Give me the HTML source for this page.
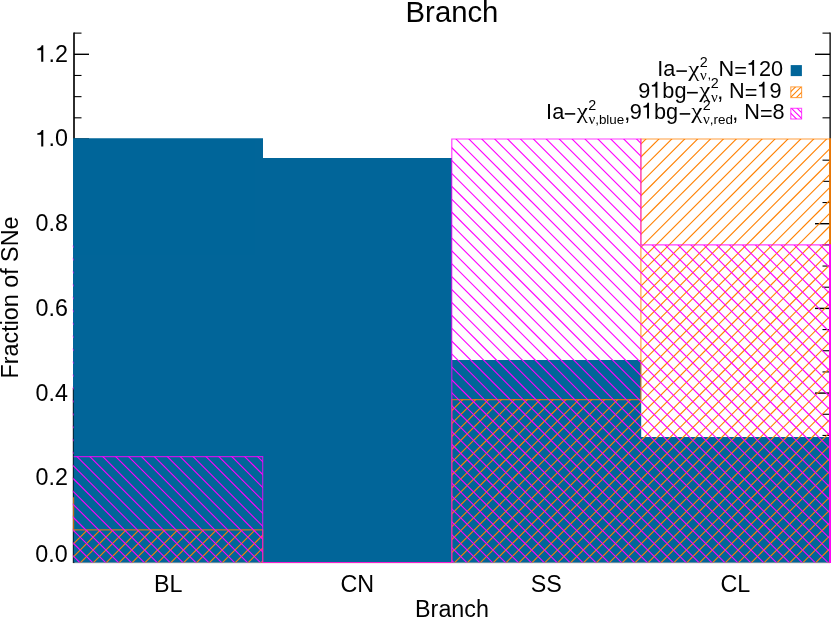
<!DOCTYPE html>
<html><head><meta charset="utf-8"><title>Branch</title>
<style>
html,body{margin:0;padding:0;background:#fff;}
body{width:831px;height:618px;overflow:hidden;font-family:"Liberation Sans",sans-serif;}
svg{display:block;opacity:0.999;will-change:transform;}
text{font-family:"Liberation Sans",sans-serif;fill:#000;}
.sy{font-family:"Liberation Serif",serif;}
</style></head><body>
<svg width="831" height="618" viewBox="0 0 831 618">
<rect x="0" y="0" width="831" height="618" fill="#fff"/>
<defs><clipPath id="co"><polygon points="73.60,562.50 73.60,529.92 262.70,529.92 262.70,562.50 451.80,562.50 451.80,399.62 640.90,399.62 640.90,139.00 830.00,139.00 830.00,562.50"/></clipPath>
<clipPath id="cm"><polygon points="73.60,562.50 73.60,456.62 262.70,456.62 262.70,562.50 451.80,562.50 451.80,139.00 640.90,139.00 640.90,244.88 830.00,244.88 830.00,562.50"/></clipPath></defs>
<g stroke="#000" stroke-width="1.65" fill="none">
<line x1="74.0" y1="32.62" x2="74.0" y2="562.50"/>
<line x1="830.15" y1="32.62" x2="830.15" y2="562.50" stroke="#333"/>
</g><g stroke="#000" fill="none">
<line x1="74.0" y1="541.33" x2="81.5" y2="541.33" stroke-width="1.1"/>
<line x1="830.0" y1="541.33" x2="822.5" y2="541.33" stroke-width="1.1"/>
<line x1="74.0" y1="520.15" x2="81.5" y2="520.15" stroke-width="1.1"/>
<line x1="830.0" y1="520.15" x2="822.5" y2="520.15" stroke-width="1.1"/>
<line x1="74.0" y1="498.97" x2="81.5" y2="498.97" stroke-width="1.1"/>
<line x1="830.0" y1="498.97" x2="822.5" y2="498.97" stroke-width="1.1"/>
<line x1="74.0" y1="477.80" x2="89.0" y2="477.80" stroke-width="1.4"/>
<line x1="830.0" y1="477.80" x2="815.0" y2="477.80" stroke-width="1.4"/>
<line x1="74.0" y1="456.62" x2="81.5" y2="456.62" stroke-width="1.1"/>
<line x1="830.0" y1="456.62" x2="822.5" y2="456.62" stroke-width="1.1"/>
<line x1="74.0" y1="435.45" x2="81.5" y2="435.45" stroke-width="1.1"/>
<line x1="830.0" y1="435.45" x2="822.5" y2="435.45" stroke-width="1.1"/>
<line x1="74.0" y1="414.27" x2="81.5" y2="414.27" stroke-width="1.1"/>
<line x1="830.0" y1="414.27" x2="822.5" y2="414.27" stroke-width="1.1"/>
<line x1="74.0" y1="393.10" x2="89.0" y2="393.10" stroke-width="1.4"/>
<line x1="830.0" y1="393.10" x2="815.0" y2="393.10" stroke-width="1.4"/>
<line x1="74.0" y1="371.92" x2="81.5" y2="371.92" stroke-width="1.1"/>
<line x1="830.0" y1="371.92" x2="822.5" y2="371.92" stroke-width="1.1"/>
<line x1="74.0" y1="350.75" x2="81.5" y2="350.75" stroke-width="1.1"/>
<line x1="830.0" y1="350.75" x2="822.5" y2="350.75" stroke-width="1.1"/>
<line x1="74.0" y1="329.57" x2="81.5" y2="329.57" stroke-width="1.1"/>
<line x1="830.0" y1="329.57" x2="822.5" y2="329.57" stroke-width="1.1"/>
<line x1="74.0" y1="308.40" x2="89.0" y2="308.40" stroke-width="1.4"/>
<line x1="830.0" y1="308.40" x2="815.0" y2="308.40" stroke-width="1.4"/>
<line x1="74.0" y1="287.22" x2="81.5" y2="287.22" stroke-width="1.1"/>
<line x1="830.0" y1="287.22" x2="822.5" y2="287.22" stroke-width="1.1"/>
<line x1="74.0" y1="266.05" x2="81.5" y2="266.05" stroke-width="1.1"/>
<line x1="830.0" y1="266.05" x2="822.5" y2="266.05" stroke-width="1.1"/>
<line x1="74.0" y1="244.88" x2="81.5" y2="244.88" stroke-width="1.1"/>
<line x1="830.0" y1="244.88" x2="822.5" y2="244.88" stroke-width="1.1"/>
<line x1="74.0" y1="223.70" x2="89.0" y2="223.70" stroke-width="1.4"/>
<line x1="830.0" y1="223.70" x2="815.0" y2="223.70" stroke-width="1.4"/>
<line x1="74.0" y1="202.52" x2="81.5" y2="202.52" stroke-width="1.1"/>
<line x1="830.0" y1="202.52" x2="822.5" y2="202.52" stroke-width="1.1"/>
<line x1="74.0" y1="181.35" x2="81.5" y2="181.35" stroke-width="1.1"/>
<line x1="830.0" y1="181.35" x2="822.5" y2="181.35" stroke-width="1.1"/>
<line x1="74.0" y1="160.17" x2="81.5" y2="160.17" stroke-width="1.1"/>
<line x1="830.0" y1="160.17" x2="822.5" y2="160.17" stroke-width="1.1"/>
<line x1="74.0" y1="139.00" x2="89.0" y2="139.00" stroke-width="1.4"/>
<line x1="74.0" y1="117.82" x2="81.5" y2="117.82" stroke-width="1.1"/>
<line x1="830.0" y1="117.82" x2="822.5" y2="117.82" stroke-width="1.1"/>
<line x1="74.0" y1="96.65" x2="81.5" y2="96.65" stroke-width="1.1"/>
<line x1="830.0" y1="96.65" x2="822.5" y2="96.65" stroke-width="1.1"/>
<line x1="74.0" y1="75.47" x2="81.5" y2="75.47" stroke-width="1.1"/>
<line x1="830.0" y1="75.47" x2="822.5" y2="75.47" stroke-width="1.1"/>
<line x1="74.0" y1="54.30" x2="89.0" y2="54.30" stroke-width="1.4"/>
<line x1="830.0" y1="54.30" x2="815.0" y2="54.30" stroke-width="1.4"/>
<line x1="74.0" y1="33.12" x2="81.5" y2="33.12" stroke-width="1.1"/>
<line x1="830.0" y1="33.12" x2="822.5" y2="33.12" stroke-width="1.1"/>
</g>
<polygon points="73.00,562.60 73.00,138.30 263.00,138.30 263.00,157.91 452.00,157.91 452.00,359.88 641.20,359.88 641.20,437.08 830.50,437.08 830.50,562.60" fill="#006599"/>
<line x1="73" y1="562.75" x2="830" y2="562.75" stroke="#000" stroke-width="1" stroke-opacity="0.28"/>
<line x1="73.25" y1="388" x2="73.25" y2="563" stroke="#000" stroke-width="0.9" stroke-opacity="0.85"/>
<g clip-path="url(#co)" stroke="#ff8000" stroke-width="1.1">
<line x1="-360.00" y1="564.50" x2="67.50" y2="137.00"/>
<line x1="-347.10" y1="564.50" x2="80.40" y2="137.00"/>
<line x1="-334.20" y1="564.50" x2="93.30" y2="137.00"/>
<line x1="-321.30" y1="564.50" x2="106.20" y2="137.00"/>
<line x1="-308.40" y1="564.50" x2="119.10" y2="137.00"/>
<line x1="-295.50" y1="564.50" x2="132.00" y2="137.00"/>
<line x1="-282.60" y1="564.50" x2="144.90" y2="137.00"/>
<line x1="-269.70" y1="564.50" x2="157.80" y2="137.00"/>
<line x1="-256.80" y1="564.50" x2="170.70" y2="137.00"/>
<line x1="-243.90" y1="564.50" x2="183.60" y2="137.00"/>
<line x1="-231.00" y1="564.50" x2="196.50" y2="137.00"/>
<line x1="-218.10" y1="564.50" x2="209.40" y2="137.00"/>
<line x1="-205.20" y1="564.50" x2="222.30" y2="137.00"/>
<line x1="-192.30" y1="564.50" x2="235.20" y2="137.00"/>
<line x1="-179.40" y1="564.50" x2="248.10" y2="137.00"/>
<line x1="-166.50" y1="564.50" x2="261.00" y2="137.00"/>
<line x1="-153.60" y1="564.50" x2="273.90" y2="137.00"/>
<line x1="-140.70" y1="564.50" x2="286.80" y2="137.00"/>
<line x1="-127.80" y1="564.50" x2="299.70" y2="137.00"/>
<line x1="-114.90" y1="564.50" x2="312.60" y2="137.00"/>
<line x1="-102.00" y1="564.50" x2="325.50" y2="137.00"/>
<line x1="-89.10" y1="564.50" x2="338.40" y2="137.00"/>
<line x1="-76.20" y1="564.50" x2="351.30" y2="137.00"/>
<line x1="-63.30" y1="564.50" x2="364.20" y2="137.00"/>
<line x1="-50.40" y1="564.50" x2="377.10" y2="137.00"/>
<line x1="-37.50" y1="564.50" x2="390.00" y2="137.00"/>
<line x1="-24.60" y1="564.50" x2="402.90" y2="137.00"/>
<line x1="-11.70" y1="564.50" x2="415.80" y2="137.00"/>
<line x1="1.20" y1="564.50" x2="428.70" y2="137.00"/>
<line x1="14.10" y1="564.50" x2="441.60" y2="137.00"/>
<line x1="27.00" y1="564.50" x2="454.50" y2="137.00"/>
<line x1="39.90" y1="564.50" x2="467.40" y2="137.00"/>
<line x1="52.80" y1="564.50" x2="480.30" y2="137.00"/>
<line x1="65.70" y1="564.50" x2="493.20" y2="137.00"/>
<line x1="78.60" y1="564.50" x2="506.10" y2="137.00"/>
<line x1="91.50" y1="564.50" x2="519.00" y2="137.00"/>
<line x1="104.40" y1="564.50" x2="531.90" y2="137.00"/>
<line x1="117.30" y1="564.50" x2="544.80" y2="137.00"/>
<line x1="130.20" y1="564.50" x2="557.70" y2="137.00"/>
<line x1="143.10" y1="564.50" x2="570.60" y2="137.00"/>
<line x1="156.00" y1="564.50" x2="583.50" y2="137.00"/>
<line x1="168.90" y1="564.50" x2="596.40" y2="137.00"/>
<line x1="181.80" y1="564.50" x2="609.30" y2="137.00"/>
<line x1="194.70" y1="564.50" x2="622.20" y2="137.00"/>
<line x1="207.60" y1="564.50" x2="635.10" y2="137.00"/>
<line x1="220.50" y1="564.50" x2="648.00" y2="137.00"/>
<line x1="233.40" y1="564.50" x2="660.90" y2="137.00"/>
<line x1="246.30" y1="564.50" x2="673.80" y2="137.00"/>
<line x1="259.20" y1="564.50" x2="686.70" y2="137.00"/>
<line x1="272.10" y1="564.50" x2="699.60" y2="137.00"/>
<line x1="285.00" y1="564.50" x2="712.50" y2="137.00"/>
<line x1="297.90" y1="564.50" x2="725.40" y2="137.00"/>
<line x1="310.80" y1="564.50" x2="738.30" y2="137.00"/>
<line x1="323.70" y1="564.50" x2="751.20" y2="137.00"/>
<line x1="336.60" y1="564.50" x2="764.10" y2="137.00"/>
<line x1="349.50" y1="564.50" x2="777.00" y2="137.00"/>
<line x1="362.40" y1="564.50" x2="789.90" y2="137.00"/>
<line x1="375.30" y1="564.50" x2="802.80" y2="137.00"/>
<line x1="388.20" y1="564.50" x2="815.70" y2="137.00"/>
<line x1="401.10" y1="564.50" x2="828.60" y2="137.00"/>
<line x1="414.00" y1="564.50" x2="841.50" y2="137.00"/>
<line x1="426.90" y1="564.50" x2="854.40" y2="137.00"/>
<line x1="439.80" y1="564.50" x2="867.30" y2="137.00"/>
<line x1="452.70" y1="564.50" x2="880.20" y2="137.00"/>
<line x1="465.60" y1="564.50" x2="893.10" y2="137.00"/>
<line x1="478.50" y1="564.50" x2="906.00" y2="137.00"/>
<line x1="491.40" y1="564.50" x2="918.90" y2="137.00"/>
<line x1="504.30" y1="564.50" x2="931.80" y2="137.00"/>
<line x1="517.20" y1="564.50" x2="944.70" y2="137.00"/>
<line x1="530.10" y1="564.50" x2="957.60" y2="137.00"/>
<line x1="543.00" y1="564.50" x2="970.50" y2="137.00"/>
<line x1="555.90" y1="564.50" x2="983.40" y2="137.00"/>
<line x1="568.80" y1="564.50" x2="996.30" y2="137.00"/>
<line x1="581.70" y1="564.50" x2="1009.20" y2="137.00"/>
<line x1="594.60" y1="564.50" x2="1022.10" y2="137.00"/>
<line x1="607.50" y1="564.50" x2="1035.00" y2="137.00"/>
<line x1="620.40" y1="564.50" x2="1047.90" y2="137.00"/>
<line x1="633.30" y1="564.50" x2="1060.80" y2="137.00"/>
<line x1="646.20" y1="564.50" x2="1073.70" y2="137.00"/>
<line x1="659.10" y1="564.50" x2="1086.60" y2="137.00"/>
<line x1="672.00" y1="564.50" x2="1099.50" y2="137.00"/>
<line x1="684.90" y1="564.50" x2="1112.40" y2="137.00"/>
<line x1="697.80" y1="564.50" x2="1125.30" y2="137.00"/>
<line x1="710.70" y1="564.50" x2="1138.20" y2="137.00"/>
<line x1="723.60" y1="564.50" x2="1151.10" y2="137.00"/>
<line x1="736.50" y1="564.50" x2="1164.00" y2="137.00"/>
<line x1="749.40" y1="564.50" x2="1176.90" y2="137.00"/>
<line x1="762.30" y1="564.50" x2="1189.80" y2="137.00"/>
<line x1="775.20" y1="564.50" x2="1202.70" y2="137.00"/>
<line x1="788.10" y1="564.50" x2="1215.60" y2="137.00"/>
<line x1="801.00" y1="564.50" x2="1228.50" y2="137.00"/>
<line x1="813.90" y1="564.50" x2="1241.40" y2="137.00"/>
<line x1="826.80" y1="564.50" x2="1254.30" y2="137.00"/>
<line x1="839.70" y1="564.50" x2="1267.20" y2="137.00"/>
</g>
<polyline points="73.60,497.35 73.60,529.92 262.70,529.92 262.70,562.50 451.80,562.50 451.80,399.62 640.90,399.62 640.90,139.00 830.00,139.00" fill="none" stroke="#ff8000" stroke-width="1.15" stroke-opacity="0.76"/>
<line x1="830.05" y1="138.30" x2="830.05" y2="563.00" stroke="#ff8000" stroke-width="1.9" stroke-opacity="0.88"/>
<g clip-path="url(#cm)" stroke="#ff00ff" stroke-width="1.1">
<line x1="1255.60" y1="564.50" x2="828.10" y2="137.00"/>
<line x1="1242.70" y1="564.50" x2="815.20" y2="137.00"/>
<line x1="1229.80" y1="564.50" x2="802.30" y2="137.00"/>
<line x1="1216.90" y1="564.50" x2="789.40" y2="137.00"/>
<line x1="1204.00" y1="564.50" x2="776.50" y2="137.00"/>
<line x1="1191.10" y1="564.50" x2="763.60" y2="137.00"/>
<line x1="1178.20" y1="564.50" x2="750.70" y2="137.00"/>
<line x1="1165.30" y1="564.50" x2="737.80" y2="137.00"/>
<line x1="1152.40" y1="564.50" x2="724.90" y2="137.00"/>
<line x1="1139.50" y1="564.50" x2="712.00" y2="137.00"/>
<line x1="1126.60" y1="564.50" x2="699.10" y2="137.00"/>
<line x1="1113.70" y1="564.50" x2="686.20" y2="137.00"/>
<line x1="1100.80" y1="564.50" x2="673.30" y2="137.00"/>
<line x1="1087.90" y1="564.50" x2="660.40" y2="137.00"/>
<line x1="1075.00" y1="564.50" x2="647.50" y2="137.00"/>
<line x1="1062.10" y1="564.50" x2="634.60" y2="137.00"/>
<line x1="1049.20" y1="564.50" x2="621.70" y2="137.00"/>
<line x1="1036.30" y1="564.50" x2="608.80" y2="137.00"/>
<line x1="1023.40" y1="564.50" x2="595.90" y2="137.00"/>
<line x1="1010.50" y1="564.50" x2="583.00" y2="137.00"/>
<line x1="997.60" y1="564.50" x2="570.10" y2="137.00"/>
<line x1="984.70" y1="564.50" x2="557.20" y2="137.00"/>
<line x1="971.80" y1="564.50" x2="544.30" y2="137.00"/>
<line x1="958.90" y1="564.50" x2="531.40" y2="137.00"/>
<line x1="946.00" y1="564.50" x2="518.50" y2="137.00"/>
<line x1="933.10" y1="564.50" x2="505.60" y2="137.00"/>
<line x1="920.20" y1="564.50" x2="492.70" y2="137.00"/>
<line x1="907.30" y1="564.50" x2="479.80" y2="137.00"/>
<line x1="894.40" y1="564.50" x2="466.90" y2="137.00"/>
<line x1="881.50" y1="564.50" x2="454.00" y2="137.00"/>
<line x1="868.60" y1="564.50" x2="441.10" y2="137.00"/>
<line x1="855.70" y1="564.50" x2="428.20" y2="137.00"/>
<line x1="842.80" y1="564.50" x2="415.30" y2="137.00"/>
<line x1="829.90" y1="564.50" x2="402.40" y2="137.00"/>
<line x1="817.00" y1="564.50" x2="389.50" y2="137.00"/>
<line x1="804.10" y1="564.50" x2="376.60" y2="137.00"/>
<line x1="791.20" y1="564.50" x2="363.70" y2="137.00"/>
<line x1="778.30" y1="564.50" x2="350.80" y2="137.00"/>
<line x1="765.40" y1="564.50" x2="337.90" y2="137.00"/>
<line x1="752.50" y1="564.50" x2="325.00" y2="137.00"/>
<line x1="739.60" y1="564.50" x2="312.10" y2="137.00"/>
<line x1="726.70" y1="564.50" x2="299.20" y2="137.00"/>
<line x1="713.80" y1="564.50" x2="286.30" y2="137.00"/>
<line x1="700.90" y1="564.50" x2="273.40" y2="137.00"/>
<line x1="688.00" y1="564.50" x2="260.50" y2="137.00"/>
<line x1="675.10" y1="564.50" x2="247.60" y2="137.00"/>
<line x1="662.20" y1="564.50" x2="234.70" y2="137.00"/>
<line x1="649.30" y1="564.50" x2="221.80" y2="137.00"/>
<line x1="636.40" y1="564.50" x2="208.90" y2="137.00"/>
<line x1="623.50" y1="564.50" x2="196.00" y2="137.00"/>
<line x1="610.60" y1="564.50" x2="183.10" y2="137.00"/>
<line x1="597.70" y1="564.50" x2="170.20" y2="137.00"/>
<line x1="584.80" y1="564.50" x2="157.30" y2="137.00"/>
<line x1="571.90" y1="564.50" x2="144.40" y2="137.00"/>
<line x1="559.00" y1="564.50" x2="131.50" y2="137.00"/>
<line x1="546.10" y1="564.50" x2="118.60" y2="137.00"/>
<line x1="533.20" y1="564.50" x2="105.70" y2="137.00"/>
<line x1="520.30" y1="564.50" x2="92.80" y2="137.00"/>
<line x1="507.40" y1="564.50" x2="79.90" y2="137.00"/>
<line x1="494.50" y1="564.50" x2="67.00" y2="137.00"/>
<line x1="481.60" y1="564.50" x2="54.10" y2="137.00"/>
<line x1="468.70" y1="564.50" x2="41.20" y2="137.00"/>
<line x1="455.80" y1="564.50" x2="28.30" y2="137.00"/>
<line x1="442.90" y1="564.50" x2="15.40" y2="137.00"/>
<line x1="430.00" y1="564.50" x2="2.50" y2="137.00"/>
<line x1="417.10" y1="564.50" x2="-10.40" y2="137.00"/>
<line x1="404.20" y1="564.50" x2="-23.30" y2="137.00"/>
<line x1="391.30" y1="564.50" x2="-36.20" y2="137.00"/>
<line x1="378.40" y1="564.50" x2="-49.10" y2="137.00"/>
<line x1="365.50" y1="564.50" x2="-62.00" y2="137.00"/>
<line x1="352.60" y1="564.50" x2="-74.90" y2="137.00"/>
<line x1="339.70" y1="564.50" x2="-87.80" y2="137.00"/>
<line x1="326.80" y1="564.50" x2="-100.70" y2="137.00"/>
<line x1="313.90" y1="564.50" x2="-113.60" y2="137.00"/>
<line x1="301.00" y1="564.50" x2="-126.50" y2="137.00"/>
<line x1="288.10" y1="564.50" x2="-139.40" y2="137.00"/>
<line x1="275.20" y1="564.50" x2="-152.30" y2="137.00"/>
<line x1="262.30" y1="564.50" x2="-165.20" y2="137.00"/>
<line x1="249.40" y1="564.50" x2="-178.10" y2="137.00"/>
<line x1="236.50" y1="564.50" x2="-191.00" y2="137.00"/>
<line x1="223.60" y1="564.50" x2="-203.90" y2="137.00"/>
<line x1="210.70" y1="564.50" x2="-216.80" y2="137.00"/>
<line x1="197.80" y1="564.50" x2="-229.70" y2="137.00"/>
<line x1="184.90" y1="564.50" x2="-242.60" y2="137.00"/>
<line x1="172.00" y1="564.50" x2="-255.50" y2="137.00"/>
<line x1="159.10" y1="564.50" x2="-268.40" y2="137.00"/>
<line x1="146.20" y1="564.50" x2="-281.30" y2="137.00"/>
<line x1="133.30" y1="564.50" x2="-294.20" y2="137.00"/>
<line x1="120.40" y1="564.50" x2="-307.10" y2="137.00"/>
<line x1="107.50" y1="564.50" x2="-320.00" y2="137.00"/>
<line x1="94.60" y1="564.50" x2="-332.90" y2="137.00"/>
<line x1="81.70" y1="564.50" x2="-345.80" y2="137.00"/>
<line x1="68.80" y1="564.50" x2="-358.70" y2="137.00"/>
</g>
<polyline points="73.60,456.62 262.70,456.62 262.70,562.50 451.80,562.50 451.80,139.00 640.90,139.00 640.90,244.88 830.00,244.88" fill="none" stroke="#ff00ff" stroke-width="1.15" stroke-opacity="0.76"/>
<line x1="830.05" y1="244.18" x2="830.05" y2="563.00" stroke="#ff00ff" stroke-width="1.9" stroke-opacity="0.97"/>
<clipPath id="cl"><rect x="72.8" y="244.88" width="0.9" height="317.62"/></clipPath>
<g clip-path="url(#cl)" stroke="#ff00ff" stroke-width="1.4" stroke-opacity="0.75">
<line x1="70" y1="243.20" x2="77" y2="250.20"/>
<line x1="70" y1="256.10" x2="77" y2="263.10"/>
<line x1="70" y1="269.00" x2="77" y2="276.00"/>
<line x1="70" y1="281.90" x2="77" y2="288.90"/>
<line x1="70" y1="294.80" x2="77" y2="301.80"/>
<line x1="70" y1="307.70" x2="77" y2="314.70"/>
<line x1="70" y1="320.60" x2="77" y2="327.60"/>
<line x1="70" y1="333.50" x2="77" y2="340.50"/>
<line x1="70" y1="346.40" x2="77" y2="353.40"/>
<line x1="70" y1="359.30" x2="77" y2="366.30"/>
<line x1="70" y1="372.20" x2="77" y2="379.20"/>
<line x1="70" y1="385.10" x2="77" y2="392.10"/>
<line x1="70" y1="398.00" x2="77" y2="405.00"/>
<line x1="70" y1="410.90" x2="77" y2="417.90"/>
<line x1="70" y1="423.80" x2="77" y2="430.80"/>
<line x1="70" y1="436.70" x2="77" y2="443.70"/>
<line x1="70" y1="449.60" x2="77" y2="456.60"/>
<line x1="70" y1="462.50" x2="77" y2="469.50"/>
<line x1="70" y1="475.40" x2="77" y2="482.40"/>
<line x1="70" y1="488.30" x2="77" y2="495.30"/>
<line x1="70" y1="501.20" x2="77" y2="508.20"/>
<line x1="70" y1="514.10" x2="77" y2="521.10"/>
<line x1="70" y1="527.00" x2="77" y2="534.00"/>
<line x1="70" y1="539.90" x2="77" y2="546.90"/>
<line x1="70" y1="552.80" x2="77" y2="559.80"/>
</g>
<text x="452" y="21.6" font-size="29.3" text-anchor="middle">Branch</text>
<text x="452" y="616.5" font-size="23.3" text-anchor="middle">Branch</text>
<text x="168.15" y="591.8" font-size="23.3" text-anchor="middle">BL</text>
<text x="357.25" y="591.8" font-size="23.3" text-anchor="middle">CN</text>
<text x="546.35" y="591.8" font-size="23.3" text-anchor="middle">SS</text>
<text x="735.45" y="591.8" font-size="23.3" text-anchor="middle">CL</text>
<text x="67.6" y="562.45" font-size="23.3" text-anchor="end">0.0</text>
<text x="68" y="485.25" font-size="23.3" text-anchor="end">0.2</text>
<text x="68" y="400.55" font-size="23.3" text-anchor="end">0.4</text>
<text x="68" y="315.85" font-size="23.3" text-anchor="end">0.6</text>
<text x="68" y="231.15" font-size="23.3" text-anchor="end">0.8</text>
<path d="M37.33 134.87 L41.20 134.87 L41.20 146.45 L43.30 146.45 L43.30 130.00 L41.71 130.00 C41.25 131.89 39.92 133.12 37.33 133.33 Z" fill="#000"/>
<text x="68" y="146.45" font-size="23.3" text-anchor="end">&#8199;.0</text>
<path d="M37.33 50.17 L41.20 50.17 L41.20 61.75 L43.30 61.75 L43.30 45.30 L41.71 45.30 C41.25 47.19 39.92 48.42 37.33 48.63 Z" fill="#000"/>
<text x="68" y="61.75" font-size="23.3" text-anchor="end">&#8199;.2</text>
<text transform="translate(17.5,297.5) rotate(-90)" font-size="23.3" text-anchor="middle">Fraction of SNe</text>
<text transform="translate(657.30,75.80) scale(1,1.035)" font-size="21.7">Ia</text>
<line x1="676.40" y1="71.10" x2="686.90" y2="71.10" stroke="#000" stroke-width="1.6"/>
<text class="sy" transform="translate(688.30,75.65) scale(1.2,1)" font-size="20.9">χ</text>
<text x="699.78" y="66.70" font-size="14.3">2</text>
<text class="sy" transform="translate(700.00,79.90) scale(1.08,1)" font-size="13.8">ν</text>
<text x="707.50" y="79.00" font-size="13.4">,</text>
<path d="M748.57 64.64 L752.17 64.64 L752.17 75.80 L754.12 75.80 L754.12 59.94 L752.65 59.94 C752.21 61.76 750.98 62.95 748.57 63.16 Z" fill="#000"/>
<text transform="translate(718.62,75.80) scale(1,1.035)" font-size="21.7">N<tspan dy="2.3">=</tspan><tspan dy="-2.3">&#8203;</tspan>&#8199;20</text>
<path d="M651.86 86.54 L655.46 86.54 L655.46 97.70 L657.41 97.70 L657.41 81.84 L655.94 81.84 C655.50 83.66 654.27 84.85 651.86 85.06 Z" fill="#000"/>
<text transform="translate(638.18,97.70) scale(1,1.035)" font-size="21.7">9&#8199;bg</text>
<line x1="687.00" y1="92.70" x2="697.80" y2="92.70" stroke="#000" stroke-width="1.6"/>
<text class="sy" transform="translate(699.30,96.95) scale(1.2,1)" font-size="20.9">χ</text>
<text x="710.78" y="88.00" font-size="14.3">2</text>
<text class="sy" transform="translate(711.00,102.40) scale(1.08,1)" font-size="13.8">ν</text>
<text transform="translate(717.25,98.80) scale(1,1.035)" font-size="21.7">,</text>
<path d="M758.97 86.54 L762.57 86.54 L762.57 97.70 L764.52 97.70 L764.52 81.84 L763.05 81.84 C762.61 83.66 761.38 84.85 758.97 85.06 Z" fill="#000"/>
<text transform="translate(729.02,97.70) scale(1,1.035)" font-size="21.7">N<tspan dy="2.3">=</tspan><tspan dy="-2.3">&#8203;</tspan>&#8199;9</text>
<text transform="translate(546.10,118.60) scale(1,1.035)" font-size="21.7">Ia</text>
<line x1="564.80" y1="113.90" x2="575.20" y2="113.90" stroke="#000" stroke-width="1.6"/>
<text class="sy" transform="translate(576.70,118.45) scale(1.2,1)" font-size="20.9">χ</text>
<text x="588.18" y="109.50" font-size="14.3">2</text>
<text class="sy" transform="translate(588.40,124.20) scale(1.08,1)" font-size="13.8">ν</text>
<text x="595.20" y="123.70" font-size="13.4">,blue</text>
<text transform="translate(624.35,120.40) scale(1,1.035)" font-size="21.7">,</text>
<path d="M643.46 107.44 L647.06 107.44 L647.06 118.60 L649.01 118.60 L649.01 102.74 L647.54 102.74 C647.10 104.56 645.87 105.75 643.46 105.96 Z" fill="#000"/>
<text transform="translate(629.78,118.60) scale(1,1.035)" font-size="21.7">9&#8199;bg</text>
<line x1="679.70" y1="113.90" x2="690.20" y2="113.90" stroke="#000" stroke-width="1.6"/>
<text class="sy" transform="translate(691.30,118.45) scale(1.2,1)" font-size="20.9">χ</text>
<text x="702.78" y="109.50" font-size="14.3">2</text>
<text class="sy" transform="translate(703.00,124.20) scale(1.08,1)" font-size="13.8">ν</text>
<text x="709.80" y="123.70" font-size="13.4">,red</text>
<text transform="translate(732.35,120.40) scale(1,1.035)" font-size="21.7">,</text>
<text transform="translate(744.22,118.60) scale(1,1.035)" font-size="21.7">N<tspan dy="2.3">=</tspan><tspan dy="-2.3">&#8203;</tspan>8</text>
<rect x="790.7" y="65.1" width="11.2" height="11.0" fill="#006599"/>
<clipPath id="lco"><rect x="790.8" y="86.9" width="10.8" height="10.7"/></clipPath>
<g clip-path="url(#lco)" stroke="#ff8000" stroke-width="1.05">
<line x1="797.50" y1="84.90" x2="782.80" y2="99.60"/>
<line x1="803.20" y1="84.90" x2="788.50" y2="99.60"/>
<line x1="809.00" y1="84.90" x2="794.30" y2="99.60"/>
<line x1="791.80" y1="84.90" x2="777.10" y2="99.60"/>
<line x1="814.70" y1="84.90" x2="800.00" y2="99.60"/>
</g>
<rect x="790.8" y="86.9" width="10.8" height="10.7" fill="none" stroke="#ff8000" stroke-width="1.1" stroke-opacity="0.7"/>
<clipPath id="lcm"><rect x="790.8" y="108.3" width="10.8" height="10.7"/></clipPath>
<g clip-path="url(#lcm)" stroke="#ff00ff" stroke-width="1.05">
<line x1="783.80" y1="106.30" x2="798.50" y2="121.00"/>
<line x1="789.50" y1="106.30" x2="804.20" y2="121.00"/>
<line x1="795.20" y1="106.30" x2="809.90" y2="121.00"/>
<line x1="778.10" y1="106.30" x2="792.80" y2="121.00"/>
<line x1="800.90" y1="106.30" x2="815.60" y2="121.00"/>
</g>
<rect x="790.8" y="108.3" width="10.8" height="10.7" fill="none" stroke="#ff00ff" stroke-width="1.1" stroke-opacity="0.7"/>
</svg></body></html>
